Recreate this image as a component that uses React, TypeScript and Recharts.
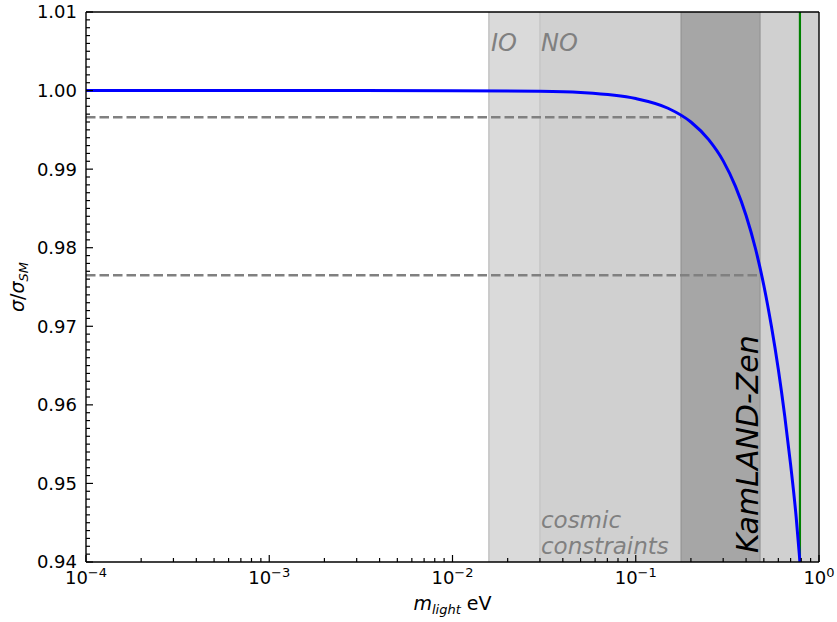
import React from 'react';
import { ComposedChart, Line, XAxis, YAxis, ReferenceArea, ReferenceLine } from 'recharts';

// ---- data ----
const massEV = [1e-4, 1e-3, 0.01, 0.03, 0.05, 0.1, 0.15, 0.2, 0.25, 0.3, 0.35, 0.4, 0.45, 0.5, 0.55, 0.6, 0.65, 0.7, 0.75, 0.78, 0.79];
const sigmaRatio = [1.0, 1.0, 0.99999, 0.99991, 0.99975, 0.99898, 0.99775, 0.996, 0.99375, 0.99105, 0.9878, 0.9841, 0.9799, 0.9752, 0.97, 0.9645, 0.9586, 0.9524, 0.9458, 0.9411, 0.9395];

const ioStart = 0.0158;
const noStart = 0.030;
const bandEnd = 1;
const kamlandRange = [0.177, 0.476];
const dashedLevels = [0.9966, 0.9765];
const dashedEnds = [0.177, 0.476];
const greenLineMass = 0.787;

const xMajorTicks = [1e-4, 1e-3, 1e-2, 1e-1, 1];
const xExponentLabels = ['\u22124', '\u22123', '\u22122', '\u22121', '0'];
const yMajorTicks = [0.94, 0.95, 0.96, 0.97, 0.98, 0.99, 1.0, 1.01];
const yTickLabels = ['0.94', '0.95', '0.96', '0.97', '0.98', '0.99', '1.00', '1.01'];

// minor ticks (positions only)
const xMinorTicks: number[] = [];
for (let e = 0; e < xMajorTicks.length - 1; e++) {
  for (let k = 2; k <= 9; k++) xMinorTicks.push(k * xMajorTicks[e]);
}
const xTicks = [...xMajorTicks, ...xMinorTicks].sort((a, b) => a - b);
const yTicks: number[] = [];
for (let i = 0; i < yMajorTicks.length; i++) {
  yTicks.push(yMajorTicks[i]);
  if (i < yMajorTicks.length - 1) {
    for (let j = 1; j <= 9; j++) yTicks.push(+(yMajorTicks[i] + j * 0.001).toFixed(4));
  }
}

const curveData = massEV.map((m, i) => ({ m, sigma: sigmaRatio[i] }));

const FONT = 'DejaVu Sans';

const XTick = (props: any) => {
  const { x, y, payload } = props;
  const v = payload.value;
  const idx = xMajorTicks.findIndex((t) => Math.abs(t - v) / t < 1e-6);
  const major = idx >= 0;
  return (
    <g>
      <line x1={x} x2={x} y1={y} y2={y - (major ? 7 : 4)} stroke="#000" strokeWidth={1.2} />
      {major && (
        <text x={x} y={y + 22} textAnchor="middle" fontSize={18} fontFamily={FONT} fill="#000">
          10<tspan dy={-7} fontSize={13}>{xExponentLabels[idx]}</tspan>
        </text>
      )}
    </g>
  );
};

const YTick = (props: any) => {
  const { x, y, payload } = props;
  const v = payload.value;
  const idx = yMajorTicks.findIndex((t) => Math.abs(t - v) < 1e-6);
  const major = idx >= 0;
  return (
    <g>
      <line x1={x} x2={x + (major ? 7 : 4)} y1={y} y2={y} stroke="#000" strokeWidth={1.2} />
      {major && (
        <text x={x - 9} y={y} dy="0.36em" textAnchor="end" fontSize={18} fontFamily={FONT} fill="#000">
          {yTickLabels[idx]}
        </text>
      )}
    </g>
  );
};

const ioLabel = (p: any) => {
  const vb = p.viewBox;
  return (
    <text x={vb.x + 2} y={vb.y + 39} fontSize={24} fontStyle="italic" fontFamily={FONT} fill="#808080">IO</text>
  );
};

const noLabel = (p: any) => {
  const vb = p.viewBox;
  return (
    <g>
      <text x={vb.x + 1} y={vb.y + 39} fontSize={24} fontStyle="italic" fontFamily={FONT} fill="#808080">NO</text>
      <text x={vb.x + 1} y={vb.y + vb.height - 34} fontSize={23} fontStyle="italic" fontFamily={FONT} fill="#808080">cosmic</text>
      <text x={vb.x + 1} y={vb.y + vb.height - 8} fontSize={23} fontStyle="italic" fontFamily={FONT} fill="#808080">constraints</text>
    </g>
  );
};

const kamLabel = (p: any) => {
  const vb = p.viewBox;
  const tx = vb.x + vb.width - 2;
  const ty = vb.y + vb.height - 9;
  return (
    <text x={tx} y={ty} transform={`rotate(-90, ${tx}, ${ty})`} fontSize={30} fontStyle="italic" fontFamily={FONT} fill="#000">
      KamLAND-Zen
    </text>
  );
};

const xLabel = (p: any) => {
  const vb = p.viewBox;
  return (
    <text x={vb.x + vb.width / 2} y={vb.y + 48} textAnchor="middle" fontSize={19} fontFamily={FONT} fill="#000">
      <tspan fontStyle="italic">m</tspan>
      <tspan fontStyle="italic" fontSize={13} dy={4}>light</tspan>
      <tspan dy={-4}> eV</tspan>
    </text>
  );
};

const yLabel = (p: any) => {
  const vb = p.viewBox;
  const cx = 24;
  const cy = vb.y + vb.height / 2;
  return (
    <text x={cx} y={cy} transform={`rotate(-90, ${cx}, ${cy})`} textAnchor="middle" fontSize={19} fontFamily={FONT} fill="#000">
      <tspan fontStyle="italic">σ</tspan>
      <tspan>/</tspan>
      <tspan fontStyle="italic">σ</tspan>
      <tspan fontStyle="italic" fontSize={13} dy={4}>SM</tspan>
    </text>
  );
};

export default function App() {
  return (
    <div style={{ position: 'absolute', left: 0, top: 0, width: 837, height: 622, background: '#fff' }}>
      <ComposedChart width={837} height={622} data={curveData} margin={{ top: 12, right: 18, left: 0, bottom: 0 }}>
        <XAxis
          dataKey="m"
          type="number"
          scale="log"
          domain={[1e-4, 1]}
          allowDataOverflow
          ticks={xTicks}
          interval={0}
          tickSize={0}
          tickMargin={0}
          tickLine={false}
          tick={<XTick />}
          height={60}
          axisLine={{ stroke: '#000', strokeWidth: 1.4 }}
          label={{ content: xLabel }}
        />
        <YAxis
          type="number"
          domain={[0.94, 1.01]}
          allowDataOverflow
          ticks={yTicks}
          interval={0}
          tickSize={0}
          tickMargin={0}
          tickLine={false}
          tick={<YTick />}
          width={86}
          axisLine={{ stroke: '#000', strokeWidth: 1.4 }}
          label={{ content: yLabel }}
        />
        <ReferenceArea x1={ioStart} x2={noStart} y1={0.94} y2={1.01} fill="#dadada" fillOpacity={1} stroke="none" label={ioLabel} />
        <ReferenceArea x1={noStart} x2={bandEnd} y1={0.94} y2={1.01} fill="#d0d0d0" fillOpacity={1} stroke="none" label={noLabel} />
        <ReferenceArea x1={kamlandRange[0]} x2={kamlandRange[1]} y1={0.94} y2={1.01} fill="#a6a6a6" fillOpacity={1} stroke="none" label={kamLabel} />
        <ReferenceLine x={ioStart} stroke="#c2c2c2" strokeWidth={1.5} />
        <ReferenceLine x={noStart} stroke="#c6c6c6" strokeWidth={1.5} />
        <ReferenceLine x={kamlandRange[0]} stroke="#999999" strokeWidth={1.5} />
        <ReferenceLine x={kamlandRange[1]} stroke="#999999" strokeWidth={1.5} />
        {dashedLevels.map((lv, i) => (
          <ReferenceLine
            key={i}
            segment={[{ x: 1e-4, y: lv }, { x: dashedEnds[i], y: lv }]}
            stroke="#808080"
            strokeWidth={2.5}
            strokeDasharray="9.5 4"
          />
        ))}
        <ReferenceLine x={greenLineMass} stroke="#008000" strokeWidth={2.2} />
        <ReferenceLine y={1.01} stroke="#000" strokeWidth={1.4} />
        <ReferenceLine x={1} stroke="#000" strokeWidth={1.4} />
        <Line dataKey="sigma" type="monotone" stroke="#0000ff" strokeWidth={3} dot={false} isAnimationActive={false} />
      </ComposedChart>
    </div>
  );
}
